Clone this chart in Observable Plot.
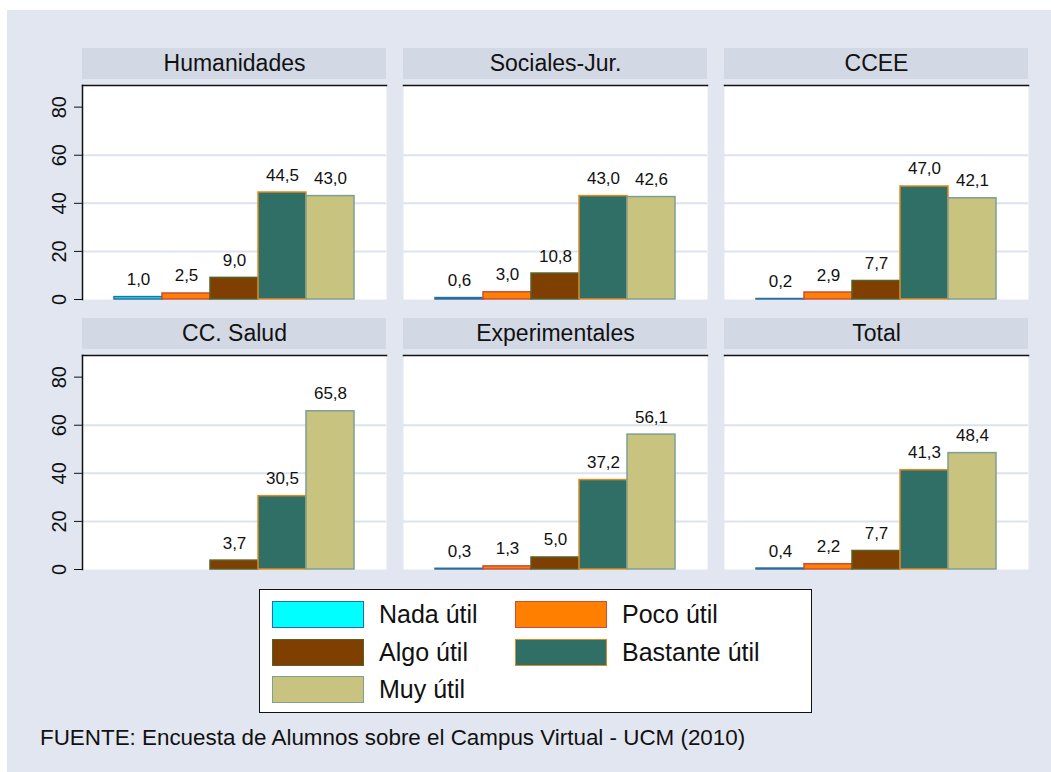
<!DOCTYPE html>
<html>
<head>
<meta charset="utf-8">
<script src="https://cdn.jsdelivr.net/npm/d3@7"></script>
<script src="https://cdn.jsdelivr.net/npm/@observablehq/plot@0.6"></script>
<style>
  html, body { margin: 0; padding: 0; background: #ffffff; }
  body { width: 1051px; height: 772px; position: relative; overflow: hidden;
         font-family: 'Liberation Sans', Arial, sans-serif; }
  #fig { position: absolute; left: 7px; top: 10px; width: 1044px; height: 762px; background: #E1E6F0; }
  #chart { position: absolute; left: 0; top: 0; }
  #chart g[aria-label="y-axis tick label"] { font-size: 20px; }
  #legend { position: absolute; left: 252px; top: 579px; width: 553px; height: 124px;
            background: #ffffff; border: 1.3px solid #111;
            display: grid; grid-template-columns: 243px 243px; grid-auto-rows: 27px;
            row-gap: 10.5px; padding: 11px 0 0 12px; box-sizing: border-box; }
  .item { display: flex; align-items: center; font-size: 25px; color: #111; white-space: nowrap; }
  .sw { width: 92px; height: 27px; box-sizing: border-box; margin-right: 15px; flex: none; }
  #caption { position: absolute; left: 33px; top: 717px; font-size: 22.4px; line-height: 22px; color: #111; white-space: nowrap; }
</style>
</head>
<body>
<div id="fig">
  <div id="chart"></div>
  <div id="legend"></div>
  <div id="caption"></div>
</div>
<script>
// ---- data ----
const categories = ["Nada útil", "Poco útil", "Algo útil", "Bastante útil", "Muy útil"];
const faculties = ["Humanidades", "Sociales-Jur.", "CCEE", "CC. Salud", "Experimentales", "Total"];
const humanidades    = [1.0, 2.5, 9.0, 44.5, 43.0];
const socialesJur    = [0.6, 3.0, 10.8, 43.0, 42.6];
const ccee           = [0.2, 2.9, 7.7, 47.0, 42.1];
const ccSalud        = [null, null, 3.7, 30.5, 65.8];
const experimentales = [0.3, 1.3, 5.0, 37.2, 56.1];
const total          = [0.4, 2.2, 7.7, 41.3, 48.4];
const yTicks = [0, 20, 40, 60, 80];
const gridValues = [20, 40, 60];
const fillColors   = ["#00FFFF", "#FF7F00", "#7F3F00", "#2F6F66", "#C9C380"];
const strokeColors = ["#2A6E9E", "#C4503C", "#56622A", "#E08A24", "#7F9F90"];
const captionText = "FUENTE: Encuesta de Alumnos sobre el Campus Virtual - UCM (2010)";

// ---- derived tables ----
const seriesByFaculty = [humanidades, socialesJur, ccee, ccSalud, experimentales, total];
const panels = faculties.map((name, i) => ({name, col: i % 3, row: Math.floor(i / 3)}));
const rows = panels.flatMap((p, i) =>
  categories.map((cat, j) => ({...p, cat, j, value: seriesByFaculty[i][j]}))
).filter(d => d.value != null);
const fmt = v => v.toFixed(1).replace(".", ",");

const yMax = 89;
const chart = Plot.plot({
  width: 1044,
  height: 575,
  marginTop: 75,
  marginBottom: 15,
  marginLeft: 75,
  marginRight: 23,
  style: {background: "transparent", fontFamily: "'Liberation Sans', Arial, sans-serif", fontSize: "17px", color: "#111"},
  fx: {axis: null, domain: [0, 1, 2], paddingInner: 17 / 321, paddingOuter: 0},
  fy: {axis: null, domain: [0, 1], paddingInner: 56 / 271, paddingOuter: 0},
  x: {axis: null, domain: categories, paddingInner: 0, paddingOuter: 0.65},
  y: {axis: null, domain: [0, yMax]},
  color: {type: "identity"},
  marks: [
    Plot.frame({fill: "white", stroke: null}),
    Plot.ruleY(gridValues, {stroke: "#DDE3EE", strokeWidth: 2}),
    Plot.rect([0], {y1: yMax + 2.5, y2: yMax + 15.4, fill: "#D2D8E4"}),
    Plot.text(panels, {fx: "col", fy: "row", text: "name", y: yMax + 8.9, fontSize: 23, fill: "#111"}),
    Plot.barY(rows, {
      fx: "col", fy: "row", x: "cat", y: "value",
      fill: d => fillColors[d.j], stroke: d => strokeColors[d.j], strokeWidth: 1.5
    }),
    Plot.text(rows, {
      fx: "col", fy: "row", x: "cat", y: "value", text: d => fmt(d.value),
      lineAnchor: "bottom", dy: -12, fontSize: 17, fill: "#111"
    }),
    Plot.frame({anchor: "top", stroke: "#111", strokeWidth: 1.5}),
    Plot.frame({anchor: "left", facetAnchor: "left", stroke: "#111", strokeWidth: 1.5}),
    Plot.axisY(yTicks, {anchor: "left", tickRotate: -90, tickSize: 8, tickPadding: 9, fontSize: 20, label: null, stroke: "#111", fill: "#111"})
  ]
});
document.getElementById("chart").appendChild(chart);

// ---- legend ----
const legend = document.getElementById("legend");
categories.forEach((c, i) => {
  const item = document.createElement("div");
  item.className = "item";
  const sw = document.createElement("span");
  sw.className = "sw";
  sw.style.background = fillColors[i];
  sw.style.border = `1.5px solid ${strokeColors[i]}`;
  item.appendChild(sw);
  item.appendChild(document.createTextNode(c));
  legend.appendChild(item);
});
document.getElementById("caption").textContent = captionText;
</script>
</body>
</html>
